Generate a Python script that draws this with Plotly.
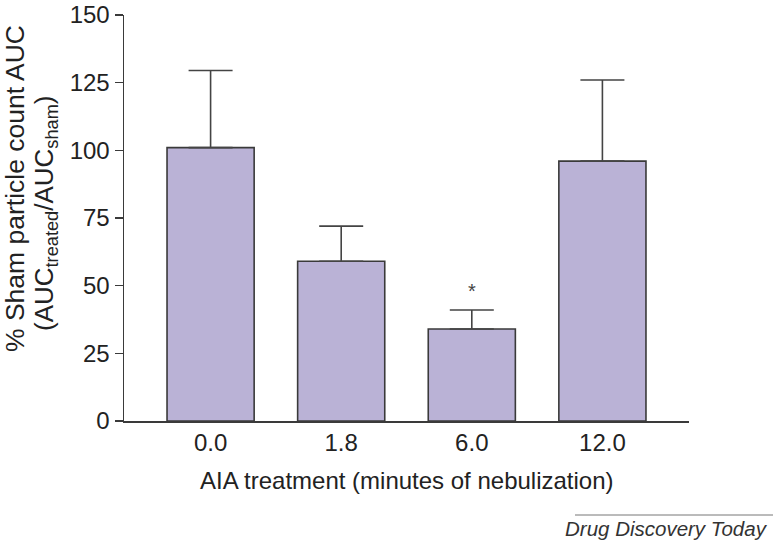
import plotly.graph_objects as go

categories = ["0.0", "1.8", "6.0", "12.0"]
means = [101, 59, 34, 96]
sem_plus = [28.5, 13, 7, 30]
y_ticks = [0, 25, 50, 75, 100, 125, 150]
sig_label = "*"
sig_index = 2
sig_y = 48

W, H = 776, 547
L, T = 124, 15
PR, PB = 689, 421  # plot right / bottom in figure px
pw, ph = PR - L, PB - T

def px_x(x):
    return (x - L) / pw

def px_y(y):
    return (PB - y) / ph

fig = go.Figure()
fig.add_trace(go.Bar(
    x=list(range(len(categories))), y=means,
    width=0.667,
    marker=dict(color="#bab2d6", line=dict(color="#3a3a3a", width=1.6)),
    error_y=dict(type="data", symmetric=False, array=sem_plus, arrayminus=[0]*4,
                 color="#444444", thickness=1.6, width=22),
    hoverinfo="skip",
))

fig.add_annotation(x=sig_index, y=sig_y, text=sig_label, showarrow=False,
                   font=dict(size=20, color="#444444", family="Liberation Sans"))

fig.add_annotation(xref="paper", yref="paper", x=0.5, y=px_y(480), xanchor="center",
                   yanchor="middle", showarrow=False,
                   text="AIA treatment (minutes of nebulization)",
                   font=dict(size=24, color="#222222", family="Liberation Sans"))

fig.add_annotation(xref="paper", yref="paper", x=px_x(15), y=px_y(189), xanchor="center",
                   yanchor="middle", showarrow=False, textangle=-90, borderpad=0,
                   text="% Sham particle count AUC",
                   font=dict(size=26.5, color="#222222", family="Liberation Sans"))
fig.add_annotation(xref="paper", yref="paper", x=px_x(45), y=px_y(214), xanchor="center",
                   yanchor="middle", showarrow=False, textangle=-90, borderpad=0,
                   text="(AUC<sub>treated</sub>/AUC<sub>sham</sub>)",
                   font=dict(size=26, color="#222222", family="Liberation Sans"))

fig.add_annotation(xref="paper", yref="paper", x=px_x(770), y=px_y(528), xanchor="right",
                   yanchor="middle", showarrow=False, text="<i>Drug Discovery Today</i>",
                   font=dict(size=20.5, color="#333333", family="Liberation Sans"))
fig.add_shape(type="line", xref="paper", yref="paper", x0=px_x(575), x1=px_x(773),
              y0=px_y(515), y1=px_y(515), line=dict(color="#777777", width=1))

fig.update_layout(
    width=W, height=H,
    margin=dict(l=L, r=W - PR, t=T, b=H - PB, pad=0),
    plot_bgcolor="white", paper_bgcolor="white",
    showlegend=False,
    font=dict(family="Liberation Sans", color="#222222"),
    xaxis=dict(range=[-0.663, 3.663], tickvals=list(range(len(categories))),
               ticktext=categories, showgrid=False, zeroline=False, automargin=False,
               showline=True, linecolor="#3a3a3a", linewidth=1.5,
               ticks="", tickfont=dict(size=24, color="#222222")),
    yaxis=dict(range=[0, 150], tickvals=y_ticks, showgrid=False, zeroline=False,
               automargin=False, ticklabeloverflow="allow",
               showline=True, linecolor="#3a3a3a", linewidth=1.5,
               ticks="outside", ticklen=8, tickcolor="#3a3a3a", tickwidth=1.5,
               tickfont=dict(size=24, color="#222222")),
)

fig.write_html("out.html", config={"displayModeBar": False, "staticPlot": True},
               post_script="document.body.style.margin='0';document.body.style.padding='0';")
